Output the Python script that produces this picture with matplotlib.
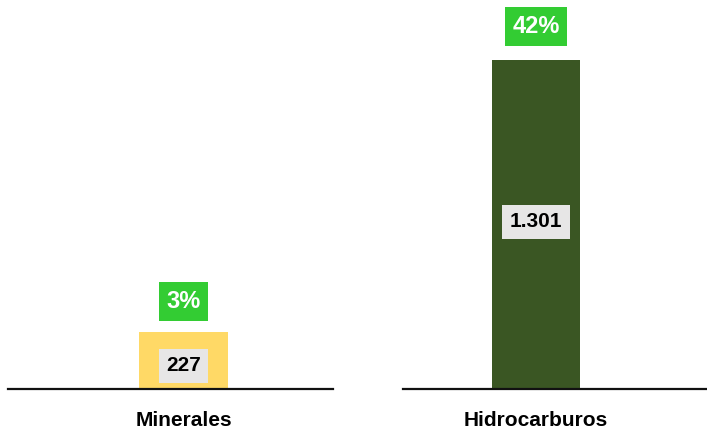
import matplotlib
matplotlib.use("Agg")
import matplotlib.pyplot as plt

categories = ["Minerales", "Hidrocarburos"]
values = [227, 1301]
value_labels = ["227", "1.301"]
pct_labels = ["3%", "42%"]
bar_colors = ["#FFD966", "#3A5623"]

plt.rcParams['font.family'] = ['Liberation Sans Narrow', 'Liberation Sans', 'DejaVu Sans']

fig = plt.figure(figsize=(7.07, 4.29), dpi=100)
W, H = 707, 429
base_y = 389
ymax = 1301 * base_y / 329.0

panels = [
    # (left px, right px, bar center px, bar width px, value label offset pt, pct offset pt)
    (8, 333, 183.5, 89, -4.0, 21.5),
    (403, 707, 536, 88, 2.0, 24.0),
]

for i, (l, r, c, bw, voff, poff) in enumerate(panels):
    ax = fig.add_axes([l / W, (H - base_y) / H, (r - l) / W, base_y / H])
    ax.set_xlim(-(c - l) / bw, (r - c) / bw)
    ax.set_ylim(0, ymax)
    ax.bar([0], [values[i]], width=1.0, color=bar_colors[i])
    for s in ['top', 'right', 'left']:
        ax.spines[s].set_visible(False)
    ax.spines['bottom'].set_linewidth(1.6)
    ax.spines['bottom'].set_color('#111111')
    ax.set_yticks([])
    ax.set_xticks([0])
    ax.set_xticklabels([categories[i]], fontsize=15, fontweight='bold')
    ax.tick_params(axis='x', length=0, pad=16)
    ax.patch.set_visible(False)
    # value label inside bar
    ax.annotate(value_labels[i], xy=(0, values[i] / 2), xytext=(0, voff),
                textcoords='offset points', ha='center', va='center',
                fontsize=15, fontweight='bold', color='black',
                bbox=dict(boxstyle='square,pad=0.35', fc='#E7E6E6', ec='none'))
    # percent label above bar
    ax.annotate(pct_labels[i], xy=(0, values[i]), xytext=(0, poff),
                textcoords='offset points', ha='center', va='center',
                fontsize=17, fontweight='bold', color='white',
                bbox=dict(boxstyle='square,pad=0.33', fc='#33CC33', ec='none'))

fig.savefig("out.png", dpi=100)
